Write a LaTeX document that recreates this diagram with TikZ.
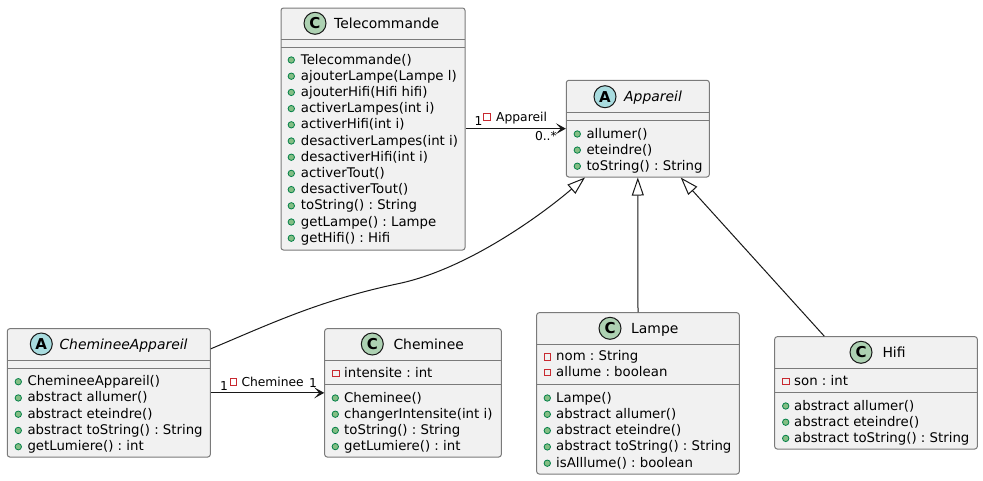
\documentclass[tikz,border=0pt]{standalone}
\usepackage{fontspec}
\setmainfont{DejaVu Sans}[ItalicFont={DejaVu Sans Oblique},BoldFont={DejaVu Sans Bold}]
\usetikzlibrary{arrows.meta}
\frenchspacing

\definecolor{boxfill}{HTML}{F1F1F1}
\definecolor{boxline}{HTML}{7A7A7A}
\definecolor{arrowline}{HTML}{181818}
\definecolor{iconline}{HTML}{181818}
\definecolor{iconC}{HTML}{ADD1B2}
\definecolor{iconA}{HTML}{A9DCDF}
\definecolor{pubfill}{HTML}{84BE84}
\definecolor{publine}{HTML}{038048}
\definecolor{privline}{HTML}{C82930}

\tikzset{
  classbox/.style={draw=boxline, fill=boxfill, line width=1pt, rounded corners=2.5pt, inner sep=0pt},
  divider/.style={draw=boxline, line width=1pt},
  classicon/.style={circle, draw=iconline, line width=1pt, fill=iconC, minimum size=22pt, inner sep=0pt, font=\fontsize{15}{15}\selectfont\bfseries},
  abstracticon/.style={classicon, fill=iconA},
  classtitle/.style={anchor=base west, inner sep=0pt, font=\fontsize{13.9}{16}\selectfont},
  abstracttitle/.style={classtitle, font=\fontsize{13.9}{16}\selectfont\itshape},
  membertext/.style={anchor=base west, inner sep=0pt, font=\fontsize{13.3}{16}\selectfont},
  lbl/.style={anchor=base west, inner sep=0pt, font=\fontsize{12.3}{14}\selectfont},
  pubdot/.style={draw=publine, fill=pubfill, line width=0.8pt},
  privsq/.style={draw=privline, line width=0.8pt},
  inherit/.style={draw=arrowline, line width=1pt, -{Triangle[length=18pt,width=12pt,fill=white]}},
  assoc/.style={draw=arrowline, line width=1pt, -{Stealth[length=10pt,width=11pt,inset=5pt]}},
}

\begin{document}
\begin{tikzpicture}[x=1pt,y=-1pt]
\fill[white] (0,0) rectangle (983,480);
\useasboundingbox (0,0) rectangle (983,480);

% Telecommande
\node[classbox, minimum width=184pt, minimum height=242pt] (Tele) at (373,129) {};
\node[classicon] (teleIcon) at (315,23.3) {C};
\node[classtitle] (teleTitle) at (334,28.3) {Telecommande};
\draw[divider] (281,39) -- (465,39);
\draw[divider] (281,47.3) -- (465,47.3);
\foreach \m [count=\i from 0] in {Telecommande(), ajouterLampe(Lampe l), ajouterHifi(Hifi hifi), activerLampes(int i), activerHifi(int i), desactiverLampes(int i), desactiverHifi(int i), activerTout(), desactiverTout(), toString() : String, getLampe() : Lampe, getHifi() : Hifi} {
  \draw[pubdot] (291.3,60+16.2*\i) circle[radius=3.2pt];
  \node[membertext] (tele\i) at (300.7,64+16.2*\i) {\m};
}

% Appareil
\node[classbox, minimum width=143pt, minimum height=96.7pt] (Appa) at (637.8,128.65) {};
\node[abstracticon] (appaIcon) at (605,96.7) {A};
\node[abstracttitle] (appaTitle) at (624,101.7) {Appareil};
\draw[divider] (566.3,112.3) -- (709.3,112.3);
\draw[divider] (566.3,120) -- (709.3,120);
\foreach \m [count=\i from 0] in {allumer(), eteindre(), toString() : String} {
  \draw[pubdot] (577.3,134+16.1*\i) circle[radius=3.2pt];
  \node[membertext] (appa\i) at (586.3,138+16.1*\i) {\m};
}

% ChemineeAppareil
\node[classbox, minimum width=203pt, minimum height=128.3pt] (CA) at (108.8,392.85) {};
\node[abstracticon] (caIcon) at (41.3,344) {A};
\node[abstracttitle] (caTitle) at (59.3,349) {Cheminee\-Appareil};
\draw[divider] (7.3,360.7) -- (210.3,360.7);
\draw[divider] (7.3,368.3) -- (210.3,368.3);
\foreach \m [count=\i from 0] in {Cheminee\-Appareil(), abstract allumer(), abstract eteindre(), abstract toString() : String, getLumiere() : int} {
  \draw[pubdot] (18.3,381.7+16.25*\i) circle[radius=3.2pt];
  \node[membertext] (ca\i) at (27.3,385.7+16.25*\i) {\m};
}

% Cheminee
\node[classbox, minimum width=176.6pt, minimum height=128.3pt] (Chem) at (413,392.85) {};
\node[classicon] (chemIcon) at (372.3,344) {C};
\node[classtitle] (chemTitle) at (393.3,349) {Cheminee};
\draw[divider] (324.7,360.7) -- (501.3,360.7);
\draw[divider] (324.7,384) -- (501.3,384);
\draw[privsq] (335.7,373.3) +(-3.25,-3.25) rectangle +(3.25,3.25);
\node[membertext] (chemAttr) at (344,377.3) {intensite : int};
\foreach \m [count=\i from 0] in {Cheminee(), changerIntensite(int i), toString() : String, getLumiere() : int} {
  \draw[pubdot] (335.3,398+16.2*\i) circle[radius=3.2pt];
  \node[membertext] (chem\i) at (344,402+16.2*\i) {\m};
}

% Lampe
\node[classbox, minimum width=202.6pt, minimum height=161.3pt] (Lampe) at (638,393.35) {};
\node[classicon] (lampeIcon) at (610,328.3) {C};
\node[classtitle] (lampeTitle) at (631,333.3) {Lampe};
\draw[divider] (536.7,344.3) -- (739.3,344.3);
\draw[divider] (536.7,384.3) -- (739.3,384.3);
\foreach \m [count=\i from 0] in {nom : String, allume : boolean} {
  \draw[privsq] (547.3,356.7+15.6*\i) +(-3.25,-3.25) rectangle +(3.25,3.25);
  \node[membertext] (lampeAttr\i) at (556,360.7+15.6*\i) {\m};
}
\foreach \m [count=\i from 0] in {Lampe(), abstract allumer(), abstract eteindre(), abstract toString() : String, isAlllume() : boolean} {
  \draw[pubdot] (547.3,398+16.3*\i) circle[radius=3.2pt];
  \node[membertext] (lampe\i) at (556,402+16.3*\i) {\m};
}

% Hifi
\node[classbox, minimum width=202.6pt, minimum height=112.3pt] (Hifi) at (876,392.85) {};
\node[classicon] (hifiIcon) at (861,352.3) {C};
\node[classtitle] (hifiTitle) at (882.3,357.3) {Hifi};
\draw[divider] (774.7,368.7) -- (977.3,368.7);
\draw[divider] (774.7,392.3) -- (977.3,392.3);
\draw[privsq] (785.7,381.3) +(-3.25,-3.25) rectangle +(3.25,3.25);
\node[membertext] (hifiAttr) at (794,385.3) {son : int};
\foreach \m [count=\i from 0] in {abstract allumer(), abstract eteindre(), abstract toString() : String} {
  \draw[pubdot] (785.7,406+16.2*\i) circle[radius=3.2pt];
  \node[membertext] (hifi\i) at (794,410+16.2*\i) {\m};
}

% associations
\draw[assoc] (Tele.east |- Appa.west) -- (Appa.west);
\node[lbl] (teleMult) at (474.5,125.3) {1};
\draw[privsq] (486.7,117) +(-3.25,-3.25) rectangle +(3.25,3.25);
\node[lbl] (appaRole) at (496,121) {Appareil};
\node[lbl, anchor=base east] (appaMult) at (557,140.7) {0..*};

\draw[assoc] (CA.east) -- (Chem.west);
\node[lbl] (caMult) at (220,390) {1};
\draw[privsq] (233.3,382) +(-3.25,-3.25) rectangle +(3.25,3.25);
\node[lbl] (chemRole) at (241.3,386) {Cheminee};
\node[lbl] (chemMult) at (309,387.3) {1};

% heritage
\draw[inherit] ([yshift=-20.6pt]CA.north east) .. controls (270,324) and (320,300) .. (400,283.3) .. controls (470,268) and (545,212) .. ([xshift=-52.8pt]Appa.south);
\draw[inherit] (Lampe.north) -- (Appa.south);
\draw[inherit] ([xshift=-51.7pt]Hifi.north) -- ([xshift=42.9pt]Appa.south);
\end{tikzpicture}
\end{document}
